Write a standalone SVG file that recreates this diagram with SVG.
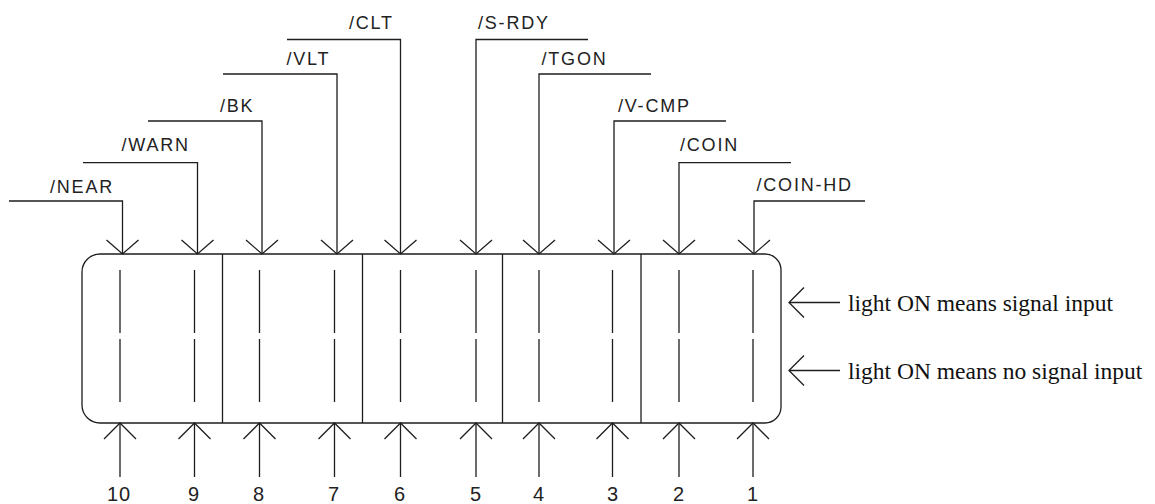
<svg xmlns="http://www.w3.org/2000/svg" width="1155" height="504" viewBox="0 0 1155 504">
<style>
.ln{stroke:#1e1e1e;stroke-width:1.3;fill:none}
.lbl{font-family:"Liberation Sans",Arial,sans-serif;font-size:18px;letter-spacing:1.8px;fill:#222}
.num{font-family:"Liberation Sans",Arial,sans-serif;font-size:20px;letter-spacing:1px;fill:#222;text-anchor:middle}
.note{font-family:"Liberation Serif","Times New Roman",serif;font-size:23.5px;fill:#111}
</style>
<defs>
<path id="ahDown" class="ln" d="M-16,-14 L0,0 L16,-14"/>
<path id="ahUp" class="ln" d="M-16,16 L0,0 L16,16"/>
<path id="ahLeft" class="ln" d="M15,-15 L0,0 L15,15"/>
</defs>
<rect width="1155" height="504" fill="#ffffff"/>

<g id="panel">
<path class="ln" d="M100,254 H765 A16,16 0 0 1 781,270 V407 A16,16 0 0 1 765,423 H100 A18,18 0 0 1 82,405 V272 A18,18 0 0 1 100,254 Z"/>
<line class="ln" x1="222.5" y1="254" x2="222.5" y2="423"/>
<line class="ln" x1="362.5" y1="254" x2="362.5" y2="423"/>
<line class="ln" x1="502.5" y1="254" x2="502.5" y2="423"/>
<line class="ln" x1="641" y1="254" x2="641" y2="423"/>
</g>

<g id="leds">
<path class="ln" d="M120,270V333M120,339V402M194.5,270V333M194.5,339V402M259.5,270V333M259.5,339V402M334.5,270V333M334.5,339V402M400.5,270V333M400.5,339V402M476,270V333M476,339V402M539,270V333M539,339V402M612.5,270V333M612.5,339V402M679,270V333M679,339V402M753,270V333M753,339V402"/>
</g>

<g id="connectors">
<path class="ln" d="M9,201H122.5V254"/>
<path class="ln" d="M83,162.7H197.5V254"/>
<path class="ln" d="M148,121H262V254"/>
<path class="ln" d="M223,74H337V254"/>
<path class="ln" d="M287,39.5H400.5V254"/>
<path class="ln" d="M588,39.5H476V254"/>
<path class="ln" d="M651,74H539V254"/>
<path class="ln" d="M726,121H614V254"/>
<path class="ln" d="M791,162.7H679V254"/>
<path class="ln" d="M865,201H754V254"/>
<use href="#ahDown" x="122.5" y="254"/>
<use href="#ahDown" x="197.5" y="254"/>
<use href="#ahDown" x="262" y="254"/>
<use href="#ahDown" x="337" y="254"/>
<use href="#ahDown" x="400.5" y="254"/>
<use href="#ahDown" x="476" y="254"/>
<use href="#ahDown" x="539" y="254"/>
<use href="#ahDown" x="614" y="254"/>
<use href="#ahDown" x="679" y="254"/>
<use href="#ahDown" x="754" y="254"/>
<path class="ln" d="M120,423V477M194.5,423V477M259.5,423V477M334.5,423V477M400.5,423V477M476,423V477M539,423V477M612.5,423V477M679,423V477M753,423V477"/>
<use href="#ahUp" x="120" y="423"/>
<use href="#ahUp" x="194.5" y="423"/>
<use href="#ahUp" x="259.5" y="423"/>
<use href="#ahUp" x="334.5" y="423"/>
<use href="#ahUp" x="400.5" y="423"/>
<use href="#ahUp" x="476" y="423"/>
<use href="#ahUp" x="539" y="423"/>
<use href="#ahUp" x="612.5" y="423"/>
<use href="#ahUp" x="679" y="423"/>
<use href="#ahUp" x="753" y="423"/>
<path class="ln" d="M789,302.5H840M789,370.5H840"/>
<use href="#ahLeft" x="789" y="302.5"/>
<use href="#ahLeft" x="789" y="370.5"/>
</g>

<g id="signal-labels">
<text class="lbl" x="50" y="192.5">/NEAR</text>
<text class="lbl" x="121.5" y="150.5">/WARN</text>
<text class="lbl" x="220" y="111.5">/BK</text>
<text class="lbl" x="286.5" y="65">/VLT</text>
<text class="lbl" x="349" y="28.5">/CLT</text>
<text class="lbl" x="478" y="28.5">/S-RDY</text>
<text class="lbl" x="541.5" y="65">/TGON</text>
<text class="lbl" x="618" y="111.5">/V-CMP</text>
<text class="lbl" x="680" y="150.5">/COIN</text>
<text class="lbl" x="756.5" y="190.5">/COIN-HD</text>
</g>

<g id="pin-numbers">
<text class="num" x="119" y="501">10</text>
<text class="num" x="194" y="501">9</text>
<text class="num" x="259" y="501">8</text>
<text class="num" x="334" y="501">7</text>
<text class="num" x="400" y="501">6</text>
<text class="num" x="476" y="501">5</text>
<text class="num" x="539" y="501">4</text>
<text class="num" x="613" y="501">3</text>
<text class="num" x="679" y="501">2</text>
<text class="num" x="753" y="501">1</text>
</g>

<g id="notes">
<text class="note" x="848" y="311">light ON means signal input</text>
<text class="note" x="848" y="379">light ON means no signal input</text>
</g>
</svg>
